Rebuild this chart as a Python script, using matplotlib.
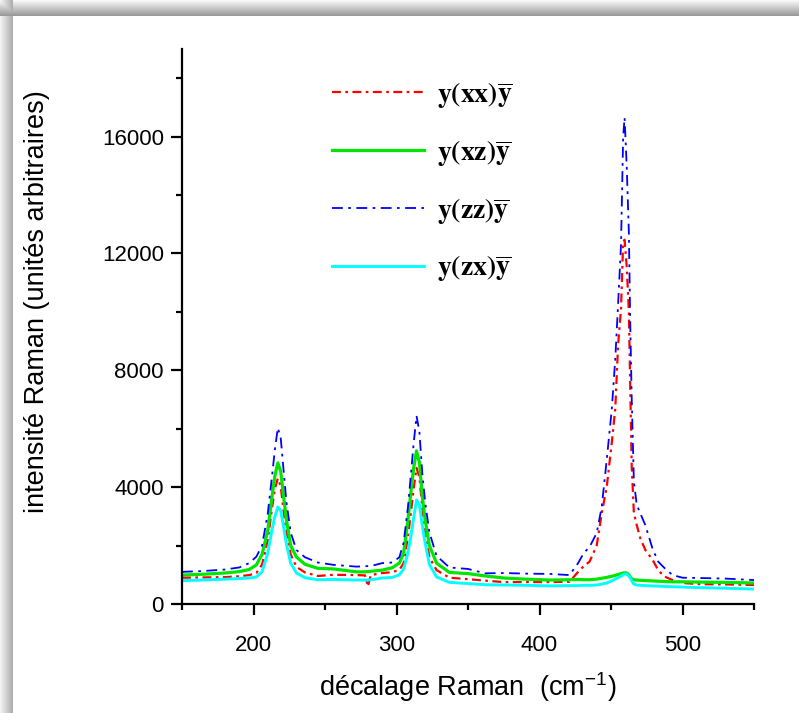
import matplotlib
matplotlib.use("Agg")
import matplotlib.pyplot as plt
import numpy as np
from matplotlib.ticker import MultipleLocator

plt.rcParams.update({
    "font.family": "Liberation Sans",
    "mathtext.fontset": "stix",
    "mathtext.default": "regular",
})

# Raman shift (cm-1), common sampling for all four spectra
shift = [150, 165, 180, 190, 197, 202, 206, 210, 213, 215, 217, 219, 221, 223,
         226, 230, 236, 245, 256, 272, 278, 280, 282, 290, 297, 302, 305, 308,
         310, 312, 314, 316, 318, 320, 323, 328, 337, 350, 362, 375, 390, 407,
         421, 427, 431, 435, 440, 443.5, 447, 450.5, 453, 455, 457, 458.5,
         459.5, 461, 462.5, 463.5, 464.5, 466, 468, 470.5, 474, 479, 483, 487,
         493, 500, 512, 530, 550]

i_xx = [900, 910, 920, 950, 990, 1060, 1350, 2190, 3300, 3950, 4300, 4050,
        3200, 2500, 1700, 1270, 1080, 960, 1000, 990, 980, 600, 990, 1060,
        1090, 1170, 1400, 2300, 3100, 3950, 4660, 4350, 3300, 2500, 1600,
        1160, 900, 850, 800, 750, 750, 750, 760, 1100, 1300, 1450, 2000, 3100,
        4000, 5500, 6700, 8900, 10100, 12400, 12470, 11540, 10000, 7300, 4700,
        3110, 2700, 2250, 1850, 1520, 1160, 950, 820, 720, 680, 670, 650]

i_xz = [990, 1020, 1060, 1110, 1180, 1340, 1700, 2530, 3700, 4400, 4830, 4550,
        3700, 2900, 2000, 1610, 1360, 1220, 1200, 1100, 1100, 1110, 1120, 1160,
        1240, 1400, 1750, 2880, 3800, 4650, 5240, 4850, 3700, 2900, 2000, 1400,
        1080, 1040, 960, 890, 850, 820, 830, 840, 830, 830, 850, 880, 910, 950,
        980, 1010, 1040, 1060, 1070, 1060, 1000, 920, 860, 830, 820, 810, 800,
        790, 780, 770, 760, 760, 750, 740, 720]

i_zz = [1100, 1130, 1180, 1250, 1400, 1620, 2000, 3100, 4400, 5300, 6030, 5700,
        4600, 3500, 2450, 1850, 1600, 1420, 1340, 1280, 1290, 1300, 1300, 1400,
        1420, 1600, 2100, 3320, 4400, 5500, 6440, 5900, 4500, 3500, 2450, 1650,
        1250, 1200, 1050, 1060, 1040, 1030, 990, 1400, 1750, 1950, 2430, 3320,
        4930, 6640, 8400, 10300, 12300, 16000, 16650, 14970, 12700, 9500, 7000,
        4200, 3400, 3100, 2700, 1900, 1450, 1250, 990, 900, 890, 870, 820]

i_zx = [800, 820, 850, 870, 890, 925, 1100, 1750, 2550, 3000, 3320, 3200, 2650,
        2050, 1400, 1060, 900, 830, 840, 820, 820, 820, 830, 890, 910, 1000,
        1200, 1750, 2300, 2950, 3560, 3400, 2700, 2100, 1350, 925, 740, 700,
        660, 650, 640, 620, 630, 630, 640, 640, 650, 680, 720, 790, 850, 900,
        950, 1000, 1030, 1020, 960, 880, 800, 680, 650, 640, 630, 620, 610, 600,
        590, 580, 560, 540, 510]

labels = [r"$\mathbf{y(xx)\overline{y}}$", r"$\mathbf{y(xz)\overline{y}}$",
          r"$\mathbf{y(zz)\overline{y}}$", r"$\mathbf{y(zx)\overline{y}}$"]

W, H = 799, 713
fig = plt.figure(figsize=(W / 100, H / 100), dpi=100)

# shadowed frame behind the plot
bg = fig.add_axes([0, 0, 1, 1], zorder=-5)
img = np.ones((H, W))
top = np.linspace(0.97, 0.6, 16)
left = np.linspace(0.95, 0.68, 13)
img[:16, :] = top[:, None]
img[:, :13] = np.minimum(img[:, :13], left[None, :])
bg.imshow(img, cmap="gray", vmin=0, vmax=1, aspect="auto",
          extent=(0, W, H, 0), interpolation="bilinear")
bg.set_axis_off()

ax = fig.add_axes([182 / W, 1 - 604 / H, 572 / W, 555 / H])
ax.set_facecolor("none")

ax.plot(shift, i_xx, color="red", lw=1.6, ls=(0, (4, 2, 1.2, 2)), label=labels[0])
ax.plot(shift, i_xz, color="#00e600", lw=2.3, label=labels[1])
ax.plot(shift, i_zz, color="blue", lw=1.3, ls=(0, (6, 3, 1.5, 3)), label=labels[2])
ax.plot(shift, i_zx, color="cyan", lw=2.1, label=labels[3])

ax.set_xlim(150, 550)
ax.set_ylim(0, 19000)
ax.xaxis.set_major_locator(MultipleLocator(100))
ax.xaxis.set_minor_locator(MultipleLocator(50))
ax.yaxis.set_major_locator(MultipleLocator(4000))
ax.yaxis.set_minor_locator(MultipleLocator(2000))
for s in ["top", "right"]:
    ax.spines[s].set_visible(False)
for s in ["left", "bottom"]:
    ax.spines[s].set_linewidth(1.6)
ax.tick_params(which="major", direction="out", length=8, width=1.6,
               labelsize=16)
ax.tick_params(which="minor", direction="out", length=4, width=1.6)
ax.tick_params(axis="x", which="major", pad=14)
ax.tick_params(axis="y", which="major", pad=5)

ax.set_xlabel(r"décalage Raman  (cm$^{\mathregular{-1}}$)", fontsize=19.5)
ax.xaxis.set_label_coords(0.5, -0.12)
ax.set_ylabel("intensité Raman (unités arbitraires)", fontsize=19.5)
ax.yaxis.set_label_coords(-0.23, 0.545)

ax.legend(loc="upper left", bbox_to_anchor=(0.262, 0.944), frameon=False,
          fontsize=20, handlelength=3.3, handletextpad=0.5, labelspacing=1.0,
          borderpad=0, borderaxespad=0)

fig.savefig("out.png", dpi=100)
